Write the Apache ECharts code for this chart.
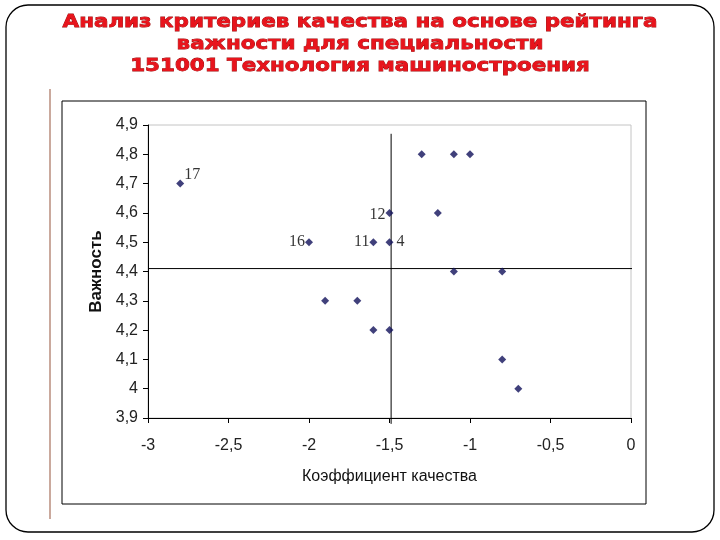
<!DOCTYPE html>
<html>
<head>
<meta charset="utf-8">
<script src="https://cdn.jsdelivr.net/npm/echarts@6/dist/echarts.min.js"></script>
<style>
html,body{margin:0;padding:0;background:#fff;}
#chart{width:720px;height:540px;}
</style>
</head>
<body>
<div id="chart"></div>
<script>
// ---- data ----
var titleLines = ['Анализ критериев качества на основе рейтинга', 'важности для специальности', '151001 Технология машиностроения'];
var xAxisName = 'Коэффициент качества';
var yAxisName = 'Важность';
var qualityCoef = [-2.8, -2.0, -1.6, -1.5, -1.5, -1.3, -1.1, -1.0, -1.2, -1.1, -0.8, -1.9, -1.7, -1.6, -1.5, -0.8, -0.7];
var importance  = [ 4.7,  4.5,  4.5,  4.6,  4.5,  4.8,  4.8,  4.8,  4.6,  4.4,  4.4,  4.3,  4.3,  4.2,  4.2,  4.1,  4.0];
var pointLabels = ['17', '16', '11', '12', '4', '', '', '', '', '', '', '', '', '', '', '', ''];
var xTicks = {min: -3, max: 0, interval: 0.5};
var yTicks = {min: 3.9, max: 4.9, interval: 0.1};
var crossX = -1.49, crossY = 4.41;
var crossXRange = [3.88, 4.87];   // vertical line extent (y values)
var crossYRange = [-3, 0.01];     // horizontal line extent (x values)

// label placement styles (by label text)
var labelStyle = {
  '17': {position: 'right', distance: 0, offset: [0, -9]},
  '16': {position: 'left', distance: 0, offset: [0, 0]},
  '11': {position: 'left', distance: 0, offset: [0, 0]},
  '12': {position: 'left', distance: 0, offset: [0, 2]},
  '4':  {position: 'right', distance: 3, offset: [0, 0]}
};

var data = qualityCoef.map(function (x, i) {
  var item = {value: [x, importance[i]], name: pointLabels[i]};
  if (pointLabels[i]) {
    var s = labelStyle[pointLabels[i]];
    item.label = {show: true, position: s.position, distance: s.distance, offset: s.offset};
  }
  return item;
});

function fmt(v) { return String(+(+v).toFixed(1)).replace('.', ','); }

var titleStyle = {
  fontFamily: 'DejaVu Sans',
  fontWeight: 'bold',
  fontSize: 18,
  fill: '#e8141c',
  stroke: '#9a0a0a',
  lineWidth: 0.8,
  shadowColor: 'rgba(90,0,0,0.5)',
  shadowBlur: 2,
  shadowOffsetX: 1,
  shadowOffsetY: 1,
  textAlign: 'center',
  textVerticalAlign: 'middle'
};
var titleY = [22, 44, 66];
var titleGraphics = titleLines.map(function (t, i) {
  return {type: 'text', x: 360, y: titleY[i], scaleX: 1.19, style: Object.assign({text: t}, titleStyle), z: 10};
});

var chart = echarts.init(document.getElementById('chart'), null, {renderer: 'canvas'});
chart.setOption({
  backgroundColor: '#fff',
  animation: false,
  graphic: [
    {type: 'rect', shape: {x: 6, y: 5, width: 708, height: 527, r: 22}, style: {fill: 'none', stroke: '#000', lineWidth: 1.3}, z: -10},
    {type: 'line', shape: {x1: 50, y1: 89, x2: 50, y2: 519}, style: {stroke: '#b98c7c', lineWidth: 1.5}, z: -10},
    {type: 'rect', shape: {x: 62, y: 101, width: 584, height: 403}, style: {fill: 'none', stroke: '#000', lineWidth: 1}, z: -10}
  ].concat(titleGraphics),
  grid: {left: 148, right: 89, top: 125, bottom: 122, show: true, borderColor: '#c4c4c4', borderWidth: 1, backgroundColor: 'transparent'},
  xAxis: {
    type: 'value', min: xTicks.min, max: xTicks.max, interval: xTicks.interval,
    name: xAxisName, nameLocation: 'middle', nameGap: 51,
    nameTextStyle: {fontFamily: 'Liberation Sans', fontSize: 16, color: '#111'},
    axisLine: {show: true, onZero: false, lineStyle: {color: '#000', width: 1}},
    axisTick: {show: true, inside: false, length: 5, lineStyle: {color: '#000'}},
    axisLabel: {margin: 20, fontFamily: 'Liberation Sans', fontSize: 16, color: '#222', formatter: fmt},
    splitLine: {show: false}
  },
  yAxis: {
    type: 'value', min: yTicks.min, max: yTicks.max, interval: yTicks.interval,
    name: yAxisName, nameLocation: 'middle', nameGap: 42, nameRotate: 90,
    nameTextStyle: {fontFamily: 'Liberation Sans', fontSize: 17, fontWeight: 'bold', color: '#111'},
    axisLine: {show: true, onZero: false, lineStyle: {color: '#000', width: 1}},
    axisTick: {show: true, inside: false, length: 5, lineStyle: {color: '#000'}},
    axisLabel: {margin: 10, fontFamily: 'Liberation Sans', fontSize: 16, color: '#222', formatter: fmt},
    splitLine: {show: false}
  },
  series: [{
    type: 'line',
    clip: false,
    symbol: 'none',
    silent: true,
    lineStyle: {color: '#000', width: 1},
    data: [[crossX, crossXRange[0]], [crossX, crossXRange[1]]],
    z: 1
  }, {
    type: 'line',
    clip: false,
    symbol: 'none',
    silent: true,
    lineStyle: {color: '#000', width: 1},
    data: [[crossYRange[0], crossY], [crossYRange[1], crossY]],
    z: 1
  }, {
    type: 'scatter',
    clip: false,
    symbol: 'diamond',
    symbolSize: 8,
    itemStyle: {color: '#10105a'},
    label: {
      show: false,
      formatter: '{b}',
      fontFamily: 'Liberation Serif',
      fontSize: 16,
      color: '#000'
    },
    data: data,
    z: 3
  }]
});
</script>
</body>
</html>
